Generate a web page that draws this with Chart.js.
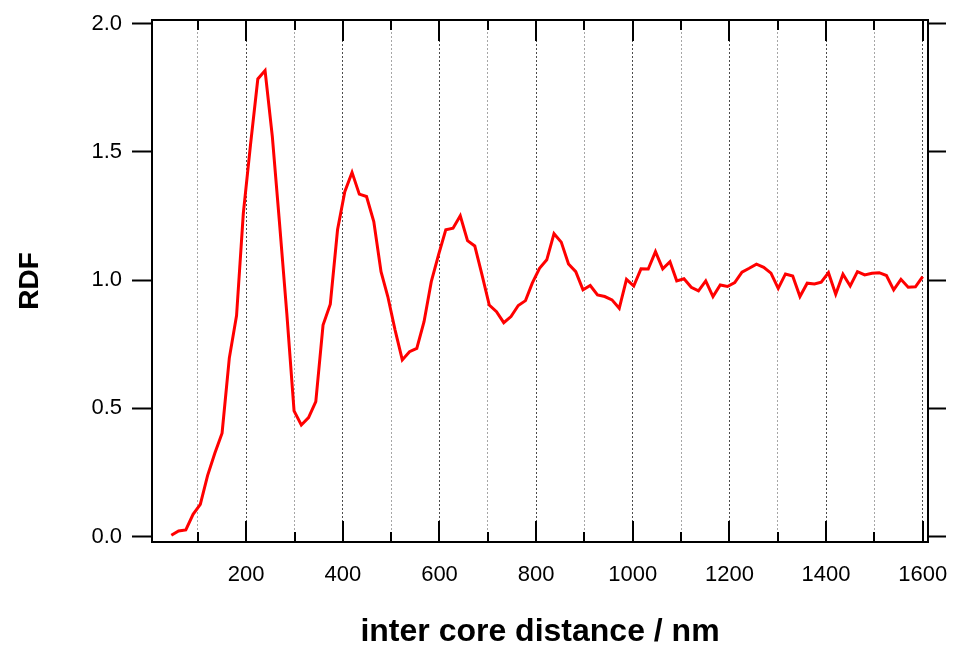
<!DOCTYPE html>
<html>
<head>
<meta charset="utf-8">
<script src="https://cdn.jsdelivr.net/npm/chart.js@4.4.1/dist/chart.umd.min.js"></script>
<style>
html,body{margin:0;padding:0;background:#fff;}
#wrap{width:959px;height:648px;position:relative;}
</style>
</head>
<body>
<div id="wrap"><canvas id="c" width="959" height="648"></canvas></div>
<script>
// inter core distance / nm
const distance = [
  45,60,75,90,105,120,135,150,165,180,
  194,209,224,239,254,269,284,299,314,329,
  344,359,374,389,404,419,434,449,464,479,
  493,508,523,538,553,568,583,598,613,628,
  643,658,673,688,703,718,733,748,763,778,
  792,807,822,837,852,867,882,897,912,927,
  942,957,972,987,1002,1017,1032,1047,1062,1077,
  1091,1106,1121,1136,1151,1166,1181,1196,1211,1226,
  1241,1256,1271,1286,1301,1316,1331,1346,1361,1376,
  1390,1405,1420,1435,1450,1465,1480,1495,1510,1525,
  1540,1555,1570,1585,1600
];
// RDF
const rdf = [
  0.005,0.022,0.026,0.087,0.126,0.238,0.325,0.403,0.696,0.862,
  1.26,1.53,1.784,1.817,1.56,1.22,0.87,0.49,0.435,0.464,
  0.526,0.825,0.906,1.196,1.345,1.42,1.335,1.326,1.228,1.033,
  0.936,0.806,0.689,0.721,0.734,0.838,0.994,1.098,1.196,1.202,
  1.251,1.154,1.133,1.02,0.903,0.877,0.834,0.858,0.901,0.92,
  0.988,1.046,1.079,1.181,1.148,1.063,1.033,0.962,0.979,0.942,
  0.936,0.923,0.89,1.003,0.977,1.044,1.043,1.111,1.044,1.072,
  0.997,1.005,0.972,0.958,0.997,0.936,0.981,0.975,0.99,1.031,
  1.046,1.062,1.05,1.027,0.968,1.024,1.016,0.936,0.988,0.985,
  0.992,1.029,0.945,1.023,0.977,1.033,1.02,1.027,1.029,1.018,
  0.962,1.003,0.972,0.974,1.014
];
// x ticks (every 100, labelled every 200) and y ticks
const xTickValues = [100,200,300,400,500,600,700,800,900,1000,1100,1200,1300,1400,1500,1600];
const xLabelValues = [200,400,600,800,1000,1200,1400,1600];
const yTickValues = [0.0, 0.5, 1.0, 1.5, 2.0];
const xRange = [5, 1611];
const yRange = [-0.021, 2.014];

Chart.defaults.font.family = "'Liberation Sans', Arial, Helvetica, sans-serif";
Chart.defaults.color = '#000';

const isMajor = v => xLabelValues.includes(v);

const innerTicks = {
  id: 'innerTicks',
  afterDraw(chart) {
    const {ctx, chartArea: a, scales: {x}} = chart;
    ctx.save();
    ctx.strokeStyle = '#000';
    ctx.lineWidth = 2;
    x.ticks.forEach(t => {
      const px = Math.round(x.getPixelForValue(t.value));
      const len = isMajor(t.value) ? 21 : 10;
      ctx.beginPath();
      ctx.moveTo(px, a.bottom); ctx.lineTo(px, a.bottom - len);
      ctx.moveTo(px, a.top); ctx.lineTo(px, a.top + len);
      ctx.stroke();
    });
    ctx.restore();
  }
};

const setTicks = vals => s => { s.ticks = vals.map(v => ({value: v})); };
const fixBox = (w, h) => s => {
  if (w !== null) s.width = w;
  if (h !== null) s.height = h;
  s.paddingLeft = 0; s.paddingRight = 0; s.paddingTop = 0; s.paddingBottom = 0;
};

new Chart(document.getElementById('c'), {
  type: 'line',
  data: {
    datasets: [{
      data: distance.map((d, i) => ({x: d, y: rdf[i]})),
      borderColor: '#ff0000',
      borderWidth: 3,
      pointRadius: 0,
      tension: 0,
      fill: false,
      borderJoinStyle: 'miter',
      xAxisID: 'x',
      yAxisID: 'y'
    }]
  },
  options: {
    responsive: false,
    animation: false,
    devicePixelRatio: 1,
    layout: {padding: 0},
    plugins: {legend: {display: false}, tooltip: {enabled: false}},
    scales: {
      x: {
        type: 'linear', position: 'bottom', min: xRange[0], max: xRange[1],
        afterBuildTicks: setTicks(xTickValues),
        afterFit: fixBox(null, 106),
        ticks: {
          autoSkip: false, maxRotation: 0, minRotation: 0,
          padding: 20, color: '#000', font: {size: 22},
          callback: v => (isMajor(v) ? String(v) : '')
        },
        grid: {
          drawTicks: false, drawOnChartArea: true, lineWidth: 1,
          color: c => (c.tick && isMajor(c.tick.value)) ? 'rgba(0,0,0,0.7)' : 'rgba(0,0,0,0.35)'
        },
        border: {display: true, color: '#000', width: 2, dash: [2, 2]},
        title: {display: true, text: 'inter core distance / nm', color: '#000',
                font: {size: 32, weight: 'bold', lineHeight: 1}, padding: 0}
      },
      xTop: {
        type: 'linear', position: 'top', min: xRange[0], max: xRange[1],
        afterFit: fixBox(null, 20),
        ticks: {display: false},
        grid: {display: false},
        border: {display: true, color: '#000', width: 2}
      },
      y: {
        type: 'linear', position: 'left', min: yRange[0], max: yRange[1],
        afterBuildTicks: setTicks(yTickValues),
        afterFit: fixBox(152, null),
        ticks: {padding: 10, color: '#000', font: {size: 22},
                callback: v => Number(v).toFixed(1)},
        grid: {drawOnChartArea: false, drawTicks: true, tickLength: 20, tickWidth: 2, tickColor: '#000'},
        border: {display: true, color: '#000', width: 2},
        title: {display: true, text: 'RDF', color: '#000',
                font: {size: 28, weight: 'bold', lineHeight: 1}, padding: {top: 16, bottom: 0}}
      },
      y2: {
        type: 'linear', position: 'right', min: yRange[0], max: yRange[1],
        afterBuildTicks: setTicks(yTickValues),
        afterFit: fixBox(31, null),
        ticks: {display: false},
        grid: {drawOnChartArea: false, drawTicks: true, tickLength: 18, tickWidth: 2, tickColor: '#000'},
        border: {display: true, color: '#000', width: 2}
      }
    }
  },
  plugins: [innerTicks]
});
</script>
</body>
</html>
